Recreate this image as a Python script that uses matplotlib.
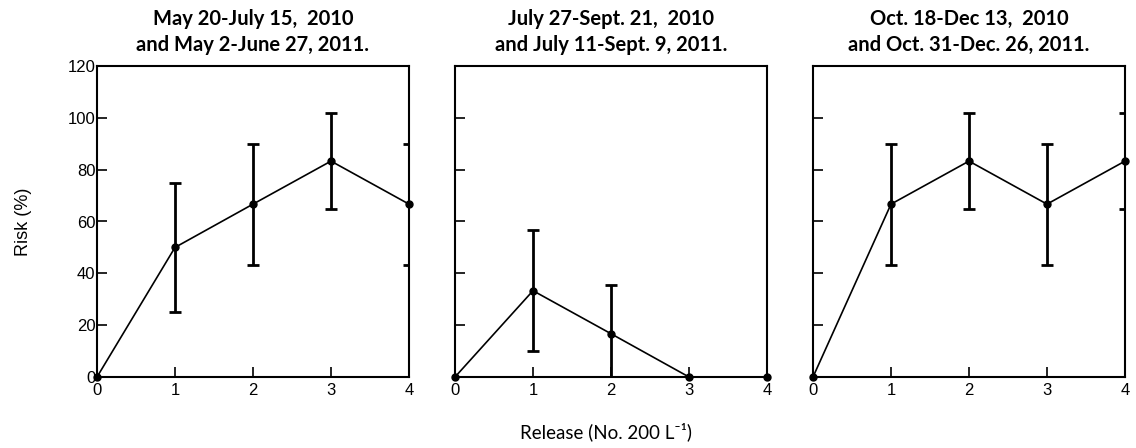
import matplotlib
matplotlib.use("Agg")
import matplotlib.pyplot as plt
import numpy as np

release = [0, 1, 2, 3, 4]
titles = ["May 20-July 15,  2010\nand May 2-June 27, 2011.",
          "July 27-Sept. 21,  2010\nand July 11-Sept. 9, 2011.",
          "Oct. 18-Dec 13,  2010\nand Oct. 31-Dec. 26, 2011."]
risk_p1 = [0, 50.0, 66.7, 83.3, 66.7]
err_p1 = [0, 25.0, 23.3, 18.5, 23.3]
risk_p2 = [0, 33.3, 16.7, 0, 0]
err_p2 = [0, 23.3, 18.7, 0, 0]
risk_p3 = [0, 66.7, 83.3, 66.7, 83.3]
err_p3 = [0, 23.3, 18.5, 23.3, 18.5]
yticks = [0, 20, 40, 60, 80, 100, 120]
xticks = [0, 1, 2, 3, 4]

risks = [risk_p1, risk_p2, risk_p3]
errs = [err_p1, err_p2, err_p3]

fig = plt.figure(figsize=(11.36, 4.48), dpi=100)
lefts = [97, 455, 813]
for i in range(3):
    ax = fig.add_axes([lefts[i] / 1136, 71 / 448, 312 / 1136, 311 / 448])
    x = np.array(release)
    y = np.array(risks[i])
    e = np.array(errs[i])
    m = x > 0
    ax.errorbar(x[m], y[m], yerr=e[m], fmt='none', ecolor='black',
                elinewidth=2.0, capsize=4, capthick=2.0, zorder=2)
    ax.plot(x, y, color='black', lw=1.2, marker='o', markersize=5,
            zorder=3, clip_on=False)
    ax.set_xlim(0, 4)
    ax.set_ylim(0, 120)
    ax.set_xticks(xticks)
    ax.set_yticks(yticks)
    ax.tick_params(direction='in', length=7, width=1.2, labelsize=12)
    ax.tick_params(axis='x', pad=4)
    ax.tick_params(axis='y', pad=1)
    for lab in ax.get_xticklabels() + ax.get_yticklabels():
        lab.set_fontfamily('Liberation Sans')
    if i > 0:
        ax.set_yticklabels([])
    for s in ax.spines.values():
        s.set_linewidth(1.5)
    ax.set_title(titles[i], fontfamily='Lato', fontweight='bold',
                 fontsize=14.5, pad=11, linespacing=1.35)
    if i == 0:
        ax.set_ylabel("Risk (%)", fontfamily='Liberation Sans', fontsize=13,
                      labelpad=26)

fig.text(606 / 1136, 1 - 432 / 448, "Release (No. 200 L⁻¹)",
         fontfamily=['Lato', 'DejaVu Sans'], fontsize=13.5,
         ha='center', va='center')

fig.savefig("out.png", dpi=100)
